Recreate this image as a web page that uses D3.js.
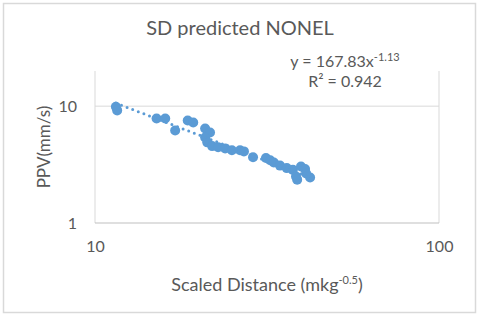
<!DOCTYPE html>
<html>
<head>
<meta charset="utf-8">
<script src="https://cdn.jsdelivr.net/npm/d3@7"></script>
<style>
  body { margin: 0; background: #fff; }
  svg text { font-family: Lato, "Open Sans", sans-serif; fill: #595959; }
</style>
</head>
<body>
<svg width="480" height="316"></svg>
<script>
// scaled distance (x) and peak particle velocity (y)
const sd = [11.5, 11.6, 15.1, 16.0, 17.1, 18.6, 19.3, 20.9, 21.6, 20.9,
            21.2, 21.9, 22.8, 23.9, 25.0, 26.4, 27.1, 28.8, 31.4, 32.3,
            33.1, 34.5, 36.1, 37.6, 39.7, 40.8, 38.7, 38.4, 42.2, 41.1];
const ppv = [9.9, 9.2, 7.85, 7.85, 6.2, 7.55, 7.25, 6.45, 5.95, 5.4,
             4.9, 4.55, 4.45, 4.35, 4.2, 4.2, 4.1, 3.65, 3.6, 3.45,
             3.3, 3.1, 2.95, 2.85, 3.05, 2.9, 2.35, 2.5, 2.45, 2.65];

// power trendline shown on the chart
const coefA = 167.83;
const coefB = -1.13;
const rSquared = 0.942;

const xTicks = [10, 100];
const yTicks = [1, 10];

const svg = d3.select('svg');

// chart border
svg.append('rect')
  .attr('x', 3.5).attr('y', 3.5)
  .attr('width', 472).attr('height', 309)
  .attr('fill', '#fff')
  .attr('stroke', '#d9d9d9')
  .attr('stroke-width', 1.5);

const plot = { left: 95, right: 439, top: 71, bottom: 223 };

const x = d3.scaleLog().domain([10, 100]).range([plot.left, plot.right]);
const y = d3.scaleLog().domain([1, 20]).range([plot.bottom, plot.top]);

// gridlines
svg.append('g')
  .selectAll('line')
  .data(xTicks)
  .enter()
  .append('line')
  .attr('x1', d => x(d)).attr('x2', d => x(d))
  .attr('y1', plot.top).attr('y2', plot.bottom)
  .attr('stroke', '#d9d9d9');

svg.append('g')
  .selectAll('line')
  .data(yTicks)
  .enter()
  .append('line')
  .attr('x1', plot.left).attr('x2', plot.right)
  .attr('y1', d => y(d)).attr('y2', d => y(d))
  .attr('stroke', d => d === 1 ? '#bfbfbf' : '#d9d9d9');

// axes (labels only)
const yAxis = svg.append('g')
  .attr('transform', 'translate(' + plot.left + ',0)')
  .call(d3.axisLeft(y).tickValues(yTicks).tickSize(0).tickPadding(18).tickFormat(d3.format('d')));
const xAxis = svg.append('g')
  .attr('transform', 'translate(0,' + plot.bottom + ')')
  .call(d3.axisBottom(x).tickValues(xTicks).tickSize(0).tickPadding(18).tickFormat(d3.format('d')));
[yAxis, xAxis].forEach(g => {
  g.select('.domain').remove();
  g.selectAll('text').style('font-size', '16px').attr('fill', '#595959')
    .style('font-family', 'Lato, "Open Sans", sans-serif');
});

// points
svg.append('g')
  .selectAll('circle')
  .data(sd)
  .enter()
  .append('circle')
  .attr('cx', d => x(d))
  .attr('cy', (d, i) => y(ppv[i]))
  .attr('r', 5)
  .attr('fill', '#5b9bd5');

// dotted trendline over the data range
const xs = d3.extent(sd);
const trendX = d3.range(0, 41).map(i => xs[0] * Math.pow(xs[1] / xs[0], i / 40));
svg.append('path')
  .datum(trendX)
  .attr('fill', 'none')
  .attr('stroke', '#5b9bd5')
  .attr('stroke-width', 3)
  .attr('stroke-linecap', 'round')
  .attr('stroke-dasharray', '0,6')
  .attr('d', d3.line().x(d => x(d)).y(d => y(coefA * Math.pow(d, coefB))));

// title
svg.append('text')
  .attr('x', 240).attr('y', 35)
  .attr('text-anchor', 'middle')
  .style('font-size', '20px')
  .text('SD predicted NONEL');

// trendline label
const eq = svg.append('text')
  .attr('x', 345).attr('y', 67)
  .attr('text-anchor', 'middle')
  .style('font-size', '16px');
eq.append('tspan').text('y = ' + coefA + 'x');
eq.append('tspan').attr('dy', -6).style('font-size', '11px').text(coefB);
svg.append('text')
  .attr('x', 345).attr('y', 87)
  .attr('text-anchor', 'middle')
  .style('font-size', '16px')
  .text('R² = ' + rSquared);

// axis titles
svg.append('text')
  .attr('text-anchor', 'middle')
  .attr('transform', 'translate(50,147) rotate(-90)')
  .style('font-size', '17px')
  .text('PPV(mm/s)');

const xt = svg.append('text')
  .attr('x', 267).attr('y', 291)
  .attr('text-anchor', 'middle')
  .style('font-size', '18px');
xt.append('tspan').text('Scaled Distance (mkg');
xt.append('tspan').attr('dy', -7).style('font-size', '11px').text('-0.5');
xt.append('tspan').attr('dy', 7).text(')');
</script>
</body>
</html>
